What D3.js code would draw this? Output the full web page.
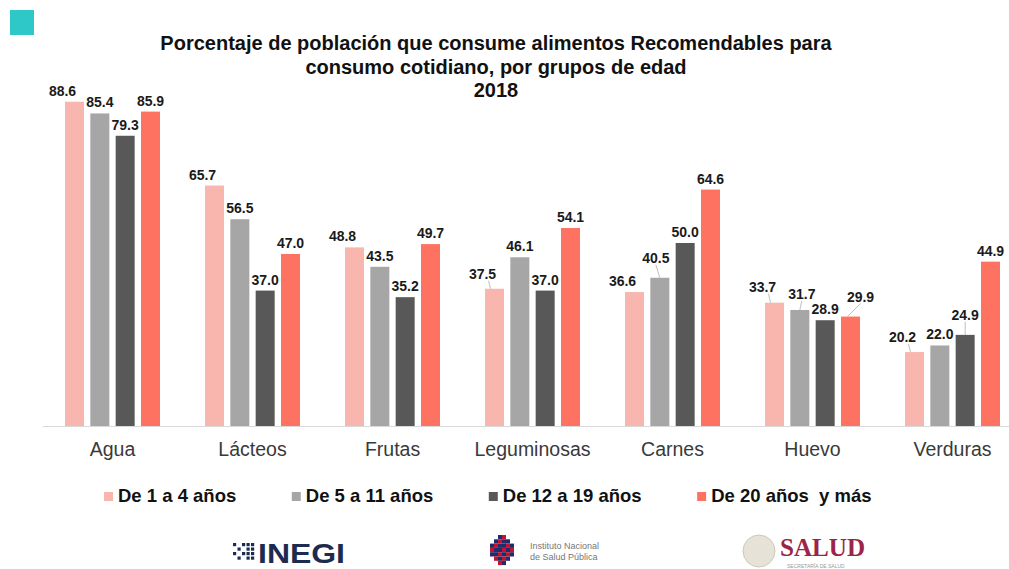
<!DOCTYPE html>
<html><head><meta charset="utf-8">
<script src="https://cdn.jsdelivr.net/npm/d3@7"></script>
<style>body{margin:0;background:#fff;overflow:hidden} svg{display:block}</style></head>
<body>
<script>
const categories = ["Agua","Lácteos","Frutas","Leguminosas","Carnes","Huevo","Verduras"];
const seriesNames = ["De 1 a 4 años","De 5 a 11 años","De 12 a 19 años","De 20 años  y más"];
const s1 = [88.6,65.7,48.8,37.5,36.6,33.7,20.2];
const s2 = [85.4,56.5,43.5,46.1,40.5,31.7,22.0];
const s3 = [79.3,37.0,35.2,37.0,50.0,28.9,24.9];
const s4 = [85.9,47.0,49.7,54.1,64.6,29.9,44.9];
const colors = ["#f9b6ae","#a6a6a6","#585858","#fe7262"];
const titleLines = ["Porcentaje de población que consume alimentos Recomendables para","consumo cotidiano, por grupos de edad","2018"];

// label nudges (relative offsets, px) for labels moved off their bars with leader lines
const labelNudge = {
  "Leguminosas|0":[0,-4], "Carnes|1":[-4,-9], "Huevo|0":[0,-5], "Huevo|1":[2,-5],
  "Huevo|3":[10,-9], "Verduras|0":[0,-4], "Verduras|2":[0,-9]
};

const W = 1009, H = 569;
const svg = d3.select("body").append("svg").attr("width", W).attr("height", H);
const font = "'Liberation Sans', Arial, sans-serif";

// teal corner square
svg.append("rect").attr("x",10).attr("y",10).attr("width",24).attr("height",25).attr("fill","#2ec8c8");

// title
svg.append("g").selectAll("text").data(titleLines).join("text")
  .attr("x", 496).attr("y",(d,i)=>50+i*23.5)
  .attr("text-anchor","middle").attr("font-family",font).attr("font-weight","bold")
  .attr("font-size",20).attr("fill","#111").text(d=>d);

const series = [s1,s2,s3,s4];
const x0 = d3.scaleBand().domain(categories).range([42.5,1022.5]).paddingInner(0).paddingOuter(0);
const x1 = d3.scaleBand().domain(d3.range(series.length)).range([22.5,117.5]).paddingInner(0.25).paddingOuter(0);
const y = d3.scaleLinear().domain([0,100]).range([426,60]);

// axis
const ax = svg.append("g").attr("transform","translate(0,426)")
  .call(d3.axisBottom(x0).tickSize(0).tickPadding(16));
ax.select(".domain").attr("stroke","#d9d9d9").attr("stroke-width",1.2);
ax.selectAll("text").attr("font-family",font).attr("font-size",19.5).attr("fill","#3a3a3a");

// bars
const flat = [];
categories.forEach((c,ci)=>series.forEach((s,si)=>flat.push({c,si,v:s[ci],n:labelNudge[c+"|"+si]||[0,0]})));
svg.append("g").selectAll("rect").data(flat).join("rect")
  .attr("x",d=>x0(d.c)+x1(d.si)).attr("width",x1.bandwidth())
  .attr("y",d=>y(d.v)).attr("height",d=>y(0)-y(d.v)).attr("fill",d=>colors[d.si]);

// value labels
const dxBySeries = [-12,0,0,0];
const lx = d=>x0(d.c)+x1(d.si)+x1.bandwidth()/2+dxBySeries[d.si]+d.n[0];
const ly = d=>y(d.v)-6+d.n[1];
// leader lines
svg.append("g").selectAll("line").data(flat.filter(d=>d.n[1]<-3)).join("line")
  .attr("x1",d=>lx(d)+(d.si===0?6:0)).attr("y1",d=>ly(d)+2)
  .attr("x2",d=>x0(d.c)+x1(d.si)+x1.bandwidth()/2+(d.si===0?-4:(d.si===3?-3:0))).attr("y2",d=>y(d.v))
  .attr("stroke","#bfbfbf").attr("stroke-width",1);
svg.append("g").selectAll("text").data(flat).join("text")
  .attr("x",lx).attr("y",ly)
  .attr("text-anchor","middle").attr("font-family",font).attr("font-weight","bold")
  .attr("font-size",14).attr("fill","#1a1a1a").text(d=>d.v.toFixed(1));

// legend
const lg = svg.append("g").attr("transform","translate(104,0)");
let px = 0;
seriesNames.forEach((n,i)=>{
  lg.append("rect").attr("x",px).attr("y",492).attr("width",9).attr("height",9).attr("fill",colors[i]);
  const t = lg.append("text").attr("x",px+14).attr("y",502).attr("font-family",font)
    .attr("font-weight","bold").attr("font-size",18.5).attr("fill","#111")
    .attr("xml:space","preserve").style("white-space","pre").text(n);
  px += 14 + t.node().getComputedTextLength() + 55.5;
});

// logos (approximations)
const lo = svg.append("g");
// INEGI
const dots = lo.append("g").attr("transform","translate(233,543)");
for(let r=0;r<4;r++) for(let c=0;c<5;c++){
  if ((r+c)%2===0 || c>2) dots.append("rect").attr("x",c*4.5).attr("y",r*4.5).attr("width",3.2).attr("height",3.2).attr("fill","#1d2b4f");
}
lo.append("text").attr("x",258).attr("y",563).attr("font-family",font).attr("font-weight","bold")
  .attr("font-size",28).attr("fill","#1d2b4f").attr("textLength",87).attr("lengthAdjust","spacingAndGlyphs").text("INEGI");
// INSP
const ins = lo.append("g").attr("transform","translate(490,535)");
const insC = ["#1d2b6f","#c4122f","#1d2b6f","#c4122f","#2a2a6a"];
for(let r=0;r<7;r++) for(let c=0;c<6;c++){
  if (Math.abs(r-3)+Math.abs(c-2.5) < 4.2) ins.append("rect").attr("x",c*4).attr("y",r*4.3).attr("width",4).attr("height",4.3).attr("fill",insC[(r+c)%5]);
}
lo.append("text").attr("x",530).attr("y",549).attr("font-family",font).attr("font-size",9).attr("fill","#777").text("Instituto Nacional");
lo.append("text").attr("x",530).attr("y",560).attr("font-family",font).attr("font-size",9).attr("fill","#777").text("de Salud Pública");
// SALUD
lo.append("circle").attr("cx",759).attr("cy",551).attr("r",16).attr("fill","#e6e2d8").attr("stroke","#cfc8b8");
lo.append("text").attr("x",780).attr("y",556).attr("font-family","'Liberation Serif', serif").attr("font-weight","bold")
  .attr("font-size",26).attr("fill","#9d2449").attr("textLength",85).attr("lengthAdjust","spacingAndGlyphs").text("SALUD");
lo.append("text").attr("x",787).attr("y",567.5).attr("font-family",font).attr("font-size",5).attr("fill","#999").text("SECRETARÍA DE SALUD");
</script>
</body></html>
